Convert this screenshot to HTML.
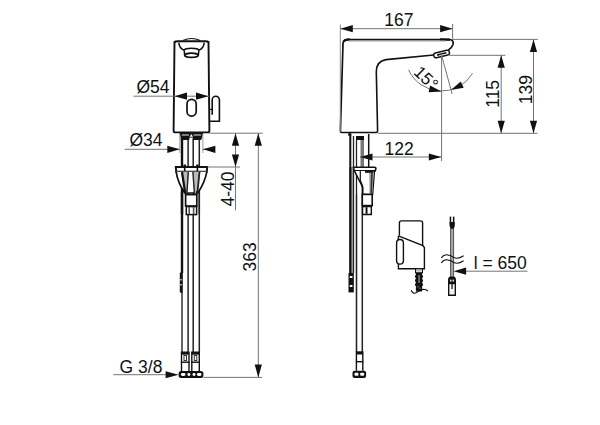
<!DOCTYPE html>
<html><head><meta charset="utf-8"><style>
html,body{margin:0;padding:0;background:#fff;}
svg{display:block;}
text{font-family:"Liberation Sans",sans-serif;fill:#111;}
</style></head><body>
<svg width="600" height="425" viewBox="0 0 600 425">
<rect width="600" height="425" fill="#fff"/>
<path d="M174.5,41.5 L173.6,130.8 Q173.6,132.4 175.2,132.4 L207.8,132.4 Q209.4,132.4 209.4,130.8 L208.5,41.5" fill="none" stroke="#111" stroke-width="1.9"/>
<path d="M174.3,42.2 Q175,41.4 178,41.3 L205,41.3 Q208,41.4 208.7,42.2" fill="none" stroke="#111" stroke-width="2.1"/>
<path d="M182.8,40.6 Q191.5,36.4 200.2,40.6" fill="none" stroke="#111" stroke-width="1.1"/>
<path d="M178.8,42.6 Q179.2,48 183.9,50.2 M204.2,42.6 Q203.8,48 199.1,50.2" fill="none" stroke="#111" stroke-width="1.5"/>
<path d="M184,50.3 A7.6,2.4 0 0 1 199,50.3" fill="none" stroke="#111" stroke-width="1.5"/>
<path d="M184.2,50.2 L184.6,55 M198.8,50.2 L198.4,55" fill="none" stroke="#111" stroke-width="1.5"/>
<ellipse cx="191.5" cy="55.3" rx="6.8" ry="2.1" fill="none" stroke="#111" stroke-width="1.8"/>
<rect x="187" y="99.3" width="9.2" height="16.8" rx="4.6" fill="none" stroke="#111" stroke-width="1.7"/>
<path d="M212.2,114.7 L212.2,99.8 A3.6,3.6 0 0 1 219.4,99.8 L219.4,121.3 L209.4,121.3" fill="none" stroke="#111" stroke-width="1.6"/>
<line x1="209.4" y1="109.4" x2="212.2" y2="109.4" stroke="#111" stroke-width="1.2"/>
<line x1="133.5" y1="96.2" x2="173.6" y2="96.2" stroke="#747474" stroke-width="1"/>
<line x1="173.6" y1="96.2" x2="209.3" y2="96.2" stroke="#747474" stroke-width="1"/>
<polygon points="174.50,96.20 187.00,92.60 187.00,99.80" fill="#111"/>
<polygon points="208.50,96.20 196.00,99.80 196.00,92.60" fill="#111"/>
<text x="136.5" y="93.3" font-size="17.5" text-anchor="start">Ø54</text>
<path d="M179.5,133 L203.2,133 L202,137.5 L201.2,140 L180.8,140 L180.5,137.5 Z" fill="#111"/>
<rect x="181.8" y="134.3" width="7.2" height="1.4" fill="#aaa"/>
<rect x="193.6" y="134.3" width="7.6" height="1.4" fill="#aaa"/>
<polygon points="191.3,134 189.6,136.8 193,136.8" fill="#fff"/>
<rect x="189.4" y="137.6" width="3.3" height="2.6" fill="#fff"/>
<line x1="182" y1="139" x2="182" y2="273" stroke="#111" stroke-width="2.4"/>
<line x1="182" y1="292" x2="182" y2="352.5" stroke="#111" stroke-width="1.3"/>
<line x1="188.1" y1="139" x2="188.1" y2="352.5" stroke="#222" stroke-width="1.5"/>
<line x1="193.2" y1="139" x2="193.2" y2="352.5" stroke="#222" stroke-width="1.5"/>
<line x1="199.3" y1="139" x2="199.3" y2="352.5" stroke="#222" stroke-width="1.5"/>
<line x1="179.8" y1="134" x2="179.8" y2="153" stroke="#9a9a9a" stroke-width="1"/>
<line x1="202.9" y1="134" x2="202.9" y2="153" stroke="#9a9a9a" stroke-width="1"/>
<line x1="124.8" y1="149.3" x2="179.5" y2="149.3" stroke="#747474" stroke-width="1"/>
<line x1="202.6" y1="149.3" x2="214.7" y2="149.3" stroke="#747474" stroke-width="1"/>
<polygon points="179.80,149.30 167.30,152.90 167.30,145.70" fill="#111"/>
<polygon points="202.90,149.30 215.40,145.70 215.40,152.90" fill="#111"/>
<text x="129.5" y="146.2" font-size="17.5" text-anchor="start">Ø34</text>
<rect x="183.5" y="164.5" width="2.5" height="2.5" fill="#111"/>
<rect x="196.2" y="164.5" width="2.5" height="2.5" fill="#111"/>
<path d="M175.8,167 L207.2,167 L206.8,171.8 L176.2,171.8 Z" fill="#fff" stroke="#111" stroke-width="1.9"/>
<line x1="184.7" y1="167" x2="184.7" y2="171.8" stroke="#111" stroke-width="1.6"/>
<line x1="197.4" y1="167" x2="197.4" y2="171.8" stroke="#111" stroke-width="1.6"/>
<path d="M176.2,171.8 Q177.5,182 184.8,193 L197.8,193 Q205,182 206.8,171.8" fill="#fff" stroke="#111" stroke-width="1.7"/>
<polygon points="181,172 189,172 187.2,193 184.6,193" fill="#bbb"/>
<polygon points="192.6,172 200.2,172 197.6,193 194.2,193" fill="#bbb"/>
<line x1="182" y1="172" x2="185.2" y2="193" stroke="#111" stroke-width="2.2"/>
<line x1="188.3" y1="172" x2="186.9" y2="193" stroke="#222" stroke-width="1.4"/>
<line x1="192.9" y1="172" x2="194.4" y2="193" stroke="#222" stroke-width="1.4"/>
<line x1="199.5" y1="172" x2="197.4" y2="193" stroke="#222" stroke-width="1.8"/>
<line x1="182" y1="192" x2="182" y2="214" stroke="#111" stroke-width="2.4"/>
<line x1="199.3" y1="192" x2="199.3" y2="214" stroke="#222" stroke-width="1.5"/>
<rect x="185.6" y="194.6" width="11.2" height="11.4" fill="#fff" stroke="#111" stroke-width="1.7"/>
<line x1="185.6" y1="191" x2="185.6" y2="194.8" stroke="#111" stroke-width="1.3"/>
<line x1="196.8" y1="191" x2="196.8" y2="194.8" stroke="#111" stroke-width="1.3"/>
<rect x="186.3" y="206.6" width="10.3" height="8" fill="#fff" stroke="#111" stroke-width="1.5"/>
<line x1="189.2" y1="207" x2="189.2" y2="214" stroke="#555" stroke-width="1.6"/>
<line x1="193.6" y1="207" x2="193.6" y2="214" stroke="#555" stroke-width="1.6"/>
<rect x="179.8" y="272.6" width="3" height="20" fill="#111"/>
<rect x="180.4" y="279" width="1.2" height="1.5" fill="#fff"/>
<rect x="180.4" y="284" width="1.2" height="1.5" fill="#fff"/>
<rect x="181.5" y="352.2" width="7.5" height="10" fill="#fff" stroke="#111" stroke-width="1.4"/>
<rect x="181.5" y="352.2" width="7.5" height="2.5" fill="#111"/>
<rect x="184.0" y="355.5" width="2.5" height="5" fill="#fff" stroke="#333" stroke-width="1"/>
<line x1="181.5" y1="362" x2="181.5" y2="371" stroke="#111" stroke-width="1.4"/>
<line x1="189.0" y1="362" x2="189.0" y2="371" stroke="#111" stroke-width="1.4"/>
<rect x="191.8" y="352.2" width="7.5" height="10" fill="#fff" stroke="#111" stroke-width="1.4"/>
<rect x="191.8" y="352.2" width="7.5" height="2.5" fill="#111"/>
<rect x="194.3" y="355.5" width="2.5" height="5" fill="#fff" stroke="#333" stroke-width="1"/>
<line x1="191.8" y1="362" x2="191.8" y2="371" stroke="#111" stroke-width="1.4"/>
<line x1="199.3" y1="362" x2="199.3" y2="371" stroke="#111" stroke-width="1.4"/>
<rect x="178.6" y="371" width="24.8" height="7" rx="2.5" fill="#111"/>
<rect x="180.95" y="373" width="4.5" height="3" rx="1.4" fill="#fff"/>
<rect x="187.4" y="373" width="3" height="3" rx="1.4" fill="#fff"/>
<rect x="192.5" y="373" width="3" height="3" rx="1.4" fill="#fff"/>
<rect x="196.95" y="373" width="4.5" height="3" rx="1.4" fill="#fff"/>
<line x1="113.3" y1="374.7" x2="166" y2="374.7" stroke="#747474" stroke-width="1"/>
<polygon points="178.60,374.70 165.60,378.20 165.60,371.20" fill="#111"/>
<text x="119.6" y="372.7" font-size="17.5" text-anchor="start">G 3/8</text>
<line x1="209.5" y1="133.2" x2="262.7" y2="133.2" stroke="#747474" stroke-width="1"/>
<line x1="207.5" y1="167" x2="240" y2="167" stroke="#747474" stroke-width="1"/>
<line x1="235.5" y1="133.2" x2="235.5" y2="210.3" stroke="#747474" stroke-width="1"/>
<polygon points="235.50,133.20 239.10,145.70 231.90,145.70" fill="#111"/>
<polygon points="235.50,167.00 231.90,154.50 239.10,154.50" fill="#111"/>
<text x="234.5" y="206.6" font-size="17.5" text-anchor="start" transform="rotate(-90 234.5 206.6)">4-40</text>
<line x1="258.3" y1="133.2" x2="258.3" y2="377.4" stroke="#747474" stroke-width="1"/>
<polygon points="258.30,133.20 261.90,145.70 254.70,145.70" fill="#111"/>
<polygon points="258.30,377.40 254.70,364.40 261.90,364.40" fill="#111"/>
<line x1="203.5" y1="377.4" x2="262" y2="377.4" stroke="#747474" stroke-width="1"/>
<text x="256" y="271.4" font-size="17.5" text-anchor="start" transform="rotate(-90 256 271.4)">363</text>
<path d="M376,132.5 L341.8,132.5 Q340.4,132.5 340.4,131 L343,43.5 Q343.2,40 346.5,39.6 L449.5,39.5 Q454,39.8 453,44.5 Q451.5,48.5 448.2,50.3" fill="none" stroke="#111" stroke-width="1.7"/>
<path d="M433.8,55 L386,59.6 Q376.3,61 376.3,72 L377.6,131 Q377.6,132.5 376,132.5" fill="none" stroke="#111" stroke-width="1.6"/>
<path d="M344,41.5 Q345,39.3 350,39.3" fill="none" stroke="#111" stroke-width="2.2"/>
<path d="M440,39.4 L450,39.6" fill="none" stroke="#111" stroke-width="2.2"/>
<line x1="348" y1="41.1" x2="446" y2="41.1" stroke="#b0b0b0" stroke-width="1"/>
<g transform="rotate(-14 441.6 54)"><rect x="433.6" y="51.6" width="16" height="4.8" rx="2.2" fill="#fff" stroke="#111" stroke-width="1.5"/><line x1="437" y1="54" x2="446.5" y2="54" stroke="#111" stroke-width="1.6"/><line x1="439" y1="55" x2="443" y2="55" stroke="#ccc" stroke-width="0.8"/></g>
<line x1="340.3" y1="24.4" x2="340.3" y2="132" stroke="#8a8a8a" stroke-width="1"/>
<line x1="452.6" y1="24" x2="452.6" y2="40" stroke="#747474" stroke-width="1"/>
<line x1="340.3" y1="28.7" x2="452.6" y2="28.7" stroke="#747474" stroke-width="1"/>
<polygon points="340.30,28.70 352.80,25.10 352.80,32.30" fill="#111"/>
<polygon points="452.60,28.70 440.10,32.30 440.10,25.10" fill="#111"/>
<text x="384.3" y="25.9" font-size="17.5" text-anchor="start">167</text>
<line x1="453" y1="39.4" x2="537.8" y2="39.4" stroke="#747474" stroke-width="1"/>
<line x1="449" y1="55.3" x2="505.4" y2="55.3" stroke="#747474" stroke-width="1"/>
<line x1="377.6" y1="133.3" x2="537.5" y2="133.3" stroke="#747474" stroke-width="1"/>
<line x1="533.5" y1="39.4" x2="533.5" y2="133.3" stroke="#747474" stroke-width="1"/>
<polygon points="533.50,39.40 537.10,51.90 529.90,51.90" fill="#111"/>
<polygon points="533.50,133.30 529.90,120.80 537.10,120.80" fill="#111"/>
<line x1="501.2" y1="55.3" x2="501.2" y2="133.3" stroke="#747474" stroke-width="1"/>
<polygon points="501.20,55.30 504.80,67.80 497.60,67.80" fill="#111"/>
<polygon points="501.20,133.30 497.60,120.80 504.80,120.80" fill="#111"/>
<text x="499" y="107.8" font-size="17.5" text-anchor="start" transform="rotate(-90 499 107.8)">115</text>
<text x="531.8" y="104.3" font-size="17.5" text-anchor="start" transform="rotate(-90 531.8 104.3)">139</text>
<line x1="441.6" y1="55.5" x2="441.6" y2="161" stroke="#747474" stroke-width="1"/>
<line x1="441.6" y1="55.5" x2="452.2" y2="94" stroke="#747474" stroke-width="1"/>
<path d="M408.5,69.8 A36.2,36.2 0 0 0 472.6,73.3" fill="none" stroke="#747474" stroke-width="1"/>
<polygon points="441.60,91.40 428.65,92.26 430.09,85.41" fill="#111"/>
<polygon points="450.90,89.90 460.77,81.47 463.71,87.82" fill="#111"/>
<text x="412.8" y="73.3" font-size="17" text-anchor="start" transform="rotate(44 412.8 73.3)">15°</text>
<line x1="360" y1="157" x2="441.6" y2="157" stroke="#747474" stroke-width="1"/>
<polygon points="441.30,157.00 428.80,160.60 428.80,153.40" fill="#111"/>
<text x="384.6" y="154.6" font-size="17.5" text-anchor="start">122</text>
<line x1="350.3" y1="134" x2="350.3" y2="273" stroke="#111" stroke-width="2"/>
<line x1="353.5" y1="136" x2="353.5" y2="273" stroke="#222" stroke-width="1.3"/>
<line x1="356.5" y1="140" x2="356.5" y2="352" stroke="#222" stroke-width="1.3"/>
<line x1="362.3" y1="140" x2="362.3" y2="352" stroke="#222" stroke-width="1.5"/>
<line x1="368.7" y1="134" x2="368.7" y2="167" stroke="#111" stroke-width="1.5"/>
<rect x="360.5" y="140" width="3.5" height="27" fill="#777"/>
<rect x="356" y="136" width="8" height="4" fill="#111"/>
<rect x="348.2" y="133.2" width="3" height="2.5" fill="#111"/>
<path d="M353.5,167.3 L374.5,167.3 Q376.3,167.3 375.8,169 L375.2,170.9 L354.3,170.9 Z" fill="#fff" stroke="#111" stroke-width="1.6"/>
<path d="M354.4,170.9 L362.8,187.4 L362.8,194.6 L372.6,194.6 L374.4,170.9" fill="#fff" stroke="#111" stroke-width="1.5"/>
<path d="M360.3,171 L360.3,180.2 L362.8,186.5" fill="none" stroke="#111" stroke-width="1.2"/>
<polygon points="369,172.5 373.8,172.5 372.4,193.5 369.5,193.5" fill="#aaa"/>
<line x1="371.9" y1="172.5" x2="371.2" y2="193.5" stroke="#333" stroke-width="1.6"/>
<line x1="365" y1="171.8" x2="373.4" y2="171.8" stroke="#111" stroke-width="2"/>
<line x1="350.5" y1="167" x2="350.5" y2="273" stroke="#111" stroke-width="2"/>
<line x1="353.3" y1="167" x2="353.3" y2="273" stroke="#222" stroke-width="1.3"/>
<line x1="356.5" y1="194.6" x2="356.5" y2="352" stroke="#222" stroke-width="1.3"/>
<rect x="362.3" y="194.4" width="9.9" height="11.2" fill="#fff" stroke="#111" stroke-width="1.6"/>
<rect x="362.6" y="206.5" width="8.7" height="8" fill="#fff" stroke="#111" stroke-width="1.5"/>
<rect x="365.5" y="207.2" width="2" height="6.6" fill="#111"/>
<rect x="363.7" y="208" width="1.4" height="5" fill="#fff"/>
<rect x="368.2" y="208" width="2" height="5" fill="#fff"/>
<polygon points="360.00,157.00 372.50,153.40 372.50,160.60" fill="#111"/>
<rect x="348.5" y="273" width="5.3" height="19.4" fill="#111"/>
<rect x="349.8" y="276" width="2.6" height="2" fill="#fff"/>
<rect x="349.8" y="285" width="2.6" height="2" fill="#fff"/>
<rect x="356.4" y="352" width="6.4" height="9.7" fill="#fff" stroke="#111" stroke-width="1.4"/>
<rect x="356.4" y="352" width="6.4" height="2.5" fill="#111"/>
<line x1="356.4" y1="361.7" x2="356.4" y2="370.8" stroke="#111" stroke-width="1.4"/>
<line x1="362.8" y1="361.7" x2="362.8" y2="370.8" stroke="#111" stroke-width="1.4"/>
<rect x="352.5" y="370.8" width="13.6" height="7.1" rx="2" fill="#111"/>
<rect x="354.5" y="372.8" width="4" height="3" rx="1" fill="#fff"/>
<rect x="360.2" y="372.8" width="4" height="3" rx="1" fill="#fff"/>
<path d="M399.4,235.5 L399.4,223 Q399.4,220.9 401.5,220.9 L420.5,220.9 Q422.6,220.9 422.6,223 L422.6,245.6" fill="none" stroke="#111" stroke-width="1.4"/>
<path d="M398.4,235.8 L422.9,245.7 L424.4,247.5 L424.4,268.7 L398.4,268.7 L398.4,235.8" fill="none" stroke="#111" stroke-width="1.4"/>
<rect x="396.6" y="239.5" width="6.8" height="24.6" rx="3.4" fill="#fff" stroke="#111" stroke-width="1.4"/>
<rect x="415.6" y="268.8" width="6.8" height="4" fill="#fff" stroke="#111" stroke-width="1.2"/>
<rect x="417.2" y="270.2" width="3.6" height="1.2" fill="#999"/>
<rect x="415.9" y="273" width="6.2" height="18.5" fill="#111"/>
<ellipse cx="415.9" cy="276.5" rx="0.9" ry="1.6" fill="#111"/>
<ellipse cx="422.1" cy="276.5" rx="0.9" ry="1.6" fill="#111"/>
<ellipse cx="415.9" cy="280.5" rx="0.9" ry="1.6" fill="#111"/>
<ellipse cx="422.1" cy="280.5" rx="0.9" ry="1.6" fill="#111"/>
<ellipse cx="415.9" cy="284.5" rx="0.9" ry="1.6" fill="#111"/>
<ellipse cx="422.1" cy="284.5" rx="0.9" ry="1.6" fill="#111"/>
<rect x="418.5" y="275" width="1.1" height="8" fill="#aaa"/>
<rect x="417.5" y="286" width="1" height="1.5" fill="#888"/>
<rect x="419.5" y="287.5" width="1" height="1.5" fill="#888"/>
<path d="M411.2,290.3 Q413,294.6 416.5,292.6 Q420,289.6 423,289.3 Q426.5,289.3 428,291.2" fill="none" stroke="#111" stroke-width="1.1"/>
<rect x="450.3" y="228" width="3.6" height="49.5" fill="#a8a8a8"/>
<line x1="450.6" y1="228" x2="450.6" y2="277.5" stroke="#444" stroke-width="0.9"/>
<line x1="453.6" y1="228" x2="453.6" y2="277.5" stroke="#444" stroke-width="0.9"/>
<rect x="449.7" y="216.6" width="1.5" height="9" fill="#111"/>
<rect x="452.9" y="216.6" width="1.5" height="9" fill="#111"/>
<path d="M449.5,222 L454.8,222 L454.6,227 Q452.2,231 449.8,227 Z" fill="#111"/>
<path d="M441.3,258 Q443.5,254.6 447,254.8 Q451,255.5 454,257.6 Q458,259.5 463.6,255.8" fill="none" stroke="#111" stroke-width="1.1"/>
<path d="M441.3,263 Q443.5,259.6 447,259.8 Q451,260.5 454,262.6 Q458,264.5 463.6,260.8" fill="none" stroke="#111" stroke-width="1.1"/>
<path d="M448.7,295.3 L448.7,281 Q448.7,277.3 450.7,277.3 L453.3,277.3 Q455.3,277.3 455.3,281 L455.3,295.3 Z" fill="#fff" stroke="#111" stroke-width="1.4"/>
<rect x="448.7" y="277.8" width="6.6" height="6.4" fill="#111"/>
<rect x="450.1" y="279.6" width="1.3" height="2" fill="#fff"/>
<rect x="452.6" y="279.6" width="1.3" height="2" fill="#fff"/>
<rect x="451.4" y="284" width="1.3" height="5" fill="#111"/>
<rect x="450.5" y="290" width="3" height="4" fill="#eee"/>
<line x1="465" y1="271.2" x2="527.5" y2="271.2" stroke="#747474" stroke-width="1"/>
<polygon points="453.60,271.20 466.10,267.60 466.10,274.80" fill="#111"/>
<text x="473.7" y="269.2" font-size="17.5" text-anchor="start">l = 650</text>
</svg></body></html>
